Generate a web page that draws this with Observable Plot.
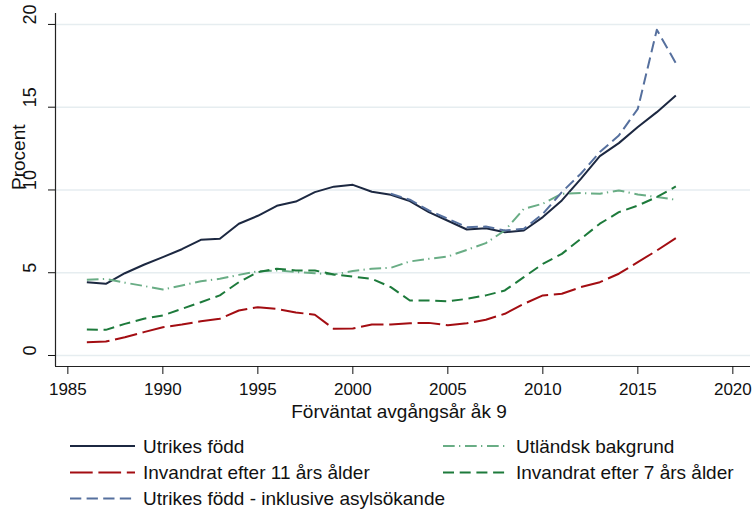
<!DOCTYPE html>
<html><head><meta charset="utf-8">
<script src="https://cdn.jsdelivr.net/npm/d3@7"></script>
<script src="https://cdn.jsdelivr.net/npm/@observablehq/plot@0.6"></script>
<style>
body{margin:0;background:#fff;font-family:"Liberation Sans",Arial,sans-serif}
#wrap{position:relative;width:755px;height:509px;background:#fff}
#wrap svg{display:block}
</style></head><body><div id="wrap"></div>
<script>
const years = [1986,1987,1988,1989,1990,1991,1992,1993,1994,1995,1996,1997,1998,1999,2000,2001,2002,2003,2004,2005,2006,2007,2008,2009,2010,2011,2012,2013,2014,2015,2016,2017];
const utrikesFodd = [4.43,4.33,4.97,5.48,5.94,6.42,6.99,7.05,7.96,8.44,9.04,9.30,9.87,10.20,10.31,9.89,9.71,9.33,8.66,8.14,7.61,7.69,7.45,7.55,8.36,9.37,10.67,12.04,12.83,13.80,14.70,15.71];
const utlandskBakgrund = [4.57,4.63,4.40,4.20,3.99,4.23,4.49,4.63,4.87,5.09,5.14,5.04,4.97,4.89,5.10,5.24,5.30,5.68,5.84,5.98,6.38,6.79,7.55,8.86,9.17,9.77,9.81,9.77,9.97,9.73,9.57,9.41];
const invandrat11 = [0.80,0.84,1.10,1.41,1.71,1.87,2.07,2.22,2.72,2.92,2.81,2.60,2.46,1.61,1.63,1.87,1.87,1.95,1.97,1.83,1.95,2.16,2.52,3.12,3.63,3.73,4.13,4.43,4.94,5.64,6.34,7.09];
const invandrat7 = [1.57,1.55,1.91,2.22,2.42,2.82,3.22,3.63,4.43,5.04,5.24,5.14,5.14,4.89,4.77,4.63,4.13,3.32,3.32,3.28,3.42,3.63,3.93,4.73,5.54,6.14,7.05,7.96,8.66,9.06,9.57,10.21];
const asylYears = [2002,2003,2004,2005,2006,2007,2008,2009,2010,2011,2012,2013,2014,2015,2016,2017];
const utrikesAsyl = [9.77,9.41,8.76,8.26,7.75,7.79,7.55,7.65,8.56,9.87,10.98,12.29,13.29,14.90,19.68,17.66];

const seriesNames = ["Utrikes född","Utländsk bakgrund","Invandrat efter 11 års ålder","Invandrat efter 7 års ålder","Utrikes född - inklusive asylsökande"];
const seriesColors = ["#1c2841","#69ad85","#a30d12","#1d7a3b","#56709e"];
const seriesDash = [null,"11.7,4.3,1.3,4.7","22.7,5.7","11,5.7","11.3,5.3"];
const seriesYears = [years, years, years, years, asylYears];
const seriesValues = [utrikesFodd, utlandskBakgrund, invandrat11, invandrat7, utrikesAsyl];

const xTicks = [1985,1990,1995,2000,2005,2010,2015,2020];
const yTicks = [0,5,10,15,20];
const xDomain = [1984.35, 2020.93];
const yDomain = [-0.665, 20.66];
const xLabel = "Förväntat avgångsår åk 9";
const yLabel = "Procent";

const lineMarks = seriesNames.map((name, i) => Plot.line(
  seriesYears[i].map((yr, j) => ({year: yr, value: seriesValues[i][j]})),
  {x: "year", y: "value", stroke: seriesColors[i], strokeWidth: 2,
   strokeDasharray: seriesDash[i] || undefined, strokeLinecap: "butt", strokeLinejoin: "round"}
));

const chart = Plot.plot({
  width: 755, height: 430,
  marginLeft: 55, marginRight: 5, marginTop: 13, marginBottom: 64,
  x: {domain: xDomain},
  y: {domain: yDomain},
  style: {fontFamily: "'Liberation Sans', Arial, sans-serif", background: "white", color: "#111"},
  marks: [
    Plot.ruleY(yTicks, {stroke: "#e6edf0", strokeWidth: 1.5}),
    Plot.ruleX([xDomain[0]], {stroke: "#222", strokeWidth: 1.2}),
    Plot.ruleY([yDomain[0]], {stroke: "#222", strokeWidth: 1.2}),
    Plot.axisX({ticks: xTicks, tickFormat: d => String(d), tickSize: 8, tickPadding: 8, fontSize: 17, label: null}),
    Plot.axisY({ticks: yTicks, tickSize: 7, tickFormat: () => "", label: null}),
    Plot.text(yTicks, {y: d => d, text: d => String(d), frameAnchor: "left", dx: -25, rotate: -90, fontSize: 18, fill: "#111"}),
    Plot.text([yLabel], {frameAnchor: "left", dx: -37, rotate: -90, fontSize: 19, fill: "#111"}),
    Plot.text([xLabel], {frameAnchor: "bottom", dy: 45, dx: -4, lineAnchor: "middle", fontSize: 19, fill: "#111"}),
    ...lineMarks
  ]
});
const wrap = document.getElementById("wrap");
wrap.appendChild(chart);

// legend below the chart
const legendPos = [[0,0],[1,0],[0,1],[1,1],[0,2]];
const colX = [70, 443];
const rowY = [16, 42.5, 68.5];
const lg = d3.create("svg").attr("width", 755).attr("height", 79)
  .style("font-family", "'Liberation Sans', Arial, sans-serif");
seriesNames.forEach((name, i) => {
  const [c, r] = legendPos[i];
  const x0 = colX[c], y0 = rowY[r];
  lg.append("line").attr("x1", x0).attr("x2", x0 + 65).attr("y1", y0).attr("y2", y0)
    .attr("stroke", seriesColors[i]).attr("stroke-width", 2)
    .attr("stroke-dasharray", seriesDash[i]);
  lg.append("text").attr("x", x0 + 73).attr("y", y0).attr("dy", "0.35em")
    .attr("font-size", 19).attr("fill", "#111").text(name);
});
wrap.appendChild(lg.node());
</script></body></html>
